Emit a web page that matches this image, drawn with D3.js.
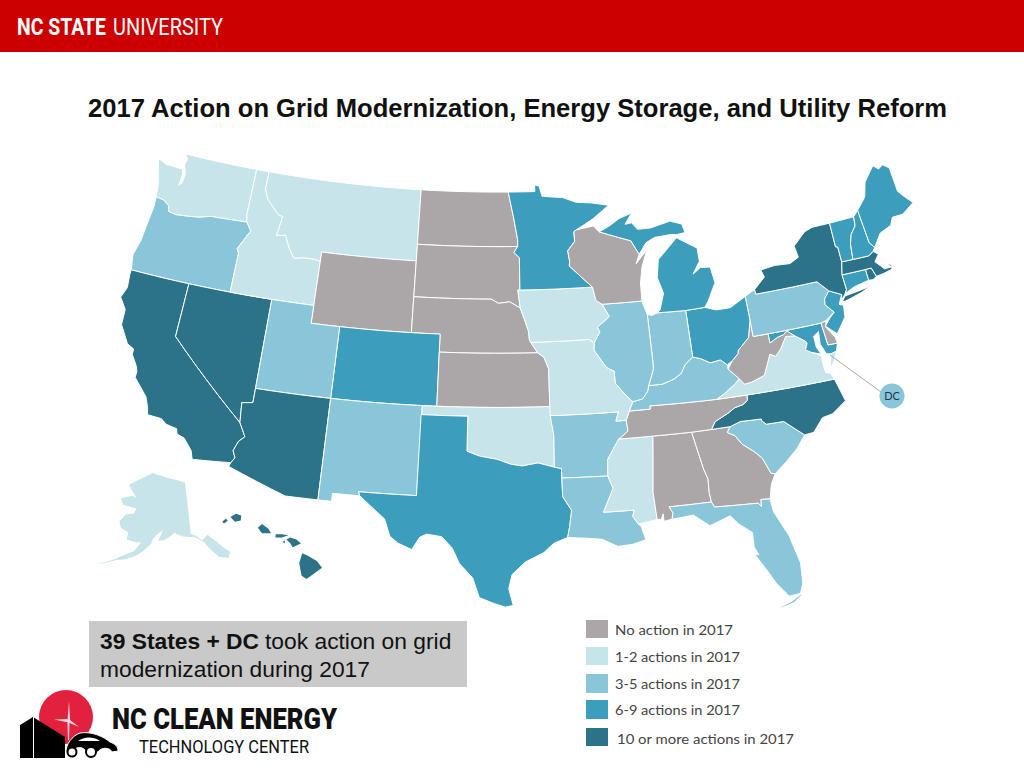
<!DOCTYPE html>
<html><head><meta charset="utf-8"><style>html,body{margin:0;padding:0;background:#fff}svg{display:block}</style>
<script src="https://cdn.jsdelivr.net/npm/d3@7"></script></head><body><svg id="c" width="1024" height="768"></svg>
<script>
const titleText="2017 Action on Grid Modernization, Energy Storage, and Utility Reform";
const legendLabels=["No action in 2017","1-2 actions in 2017","3-5 actions in 2017","6-9 actions in 2017","10 or more actions in 2017"];
const legendColors=["#aba7a9","#c6e4ea","#89c6d9","#3c9dbd","#2c7389"];
const statesNone=["ND","SD","WY","NE","KS","WI","WV","TN","AL","GA","DE"];
const states12=["WA","MT","ID","AK","IA","MO","OK","MS","VA"];
const states35=["OR","UT","NM","AR","LA","FL","IL","IN","KY","PA","SC"];
const states69=["ME","NH","VT","MN","MI","OH","NJ","MD","CO","TX","CT"];
const states10=["CA","NV","AZ","HI","NY","MA","RI","NC"];
const outlines={
WA:["-124.7,48.38 -124.1,46.9 -124,46.27 -123.4,46.2 -122.9,45.95 -122.8,45.65 -122.2,45.57 -121.2,45.65 -120.5,45.72 -119.6,45.92 -119,45.93 -116.92,46 -117.04,46.42 -117.04,49 -123.05,49 -122.75,49 -122.5,48.75 -122.6,48.4 -122.35,47.9 -122.4,47.4 -122.6,47.2 -122.55,47.8 -122.65,48.13 -123.2,48.15 -124,48.17"],
OR:["-124,46.27 -123.4,46.2 -122.9,45.95 -122.8,45.65 -122.2,45.57 -121.2,45.65 -120.5,45.72 -119.6,45.92 -119,45.93 -116.92,46 -116.5,45.55 -116.85,45 -117.2,44.45 -117.03,44.2 -117.03,42 -124.2,42 -124.4,42.85 -124.15,43.7 -124.05,44.8 -123.95,45.7"],
CA:["-124.2,42 -120,42 -120,39 -114.63,35 -114.15,34.27 -114.5,33.95 -114.72,33.4 -114.52,33.03 -114.72,32.72 -117.12,32.53 -117.3,33 -117.9,33.6 -118.4,33.75 -118.5,34.03 -119.2,34.15 -119.6,34.4 -120.5,34.45 -120.65,34.9 -120.9,35.4 -121.9,36.3 -121.9,36.65 -122.05,36.95 -122.5,37.5 -122.5,37.8 -123,38 -123.75,38.95 -123.8,39.8 -124.35,40.4 -124.1,41 -124.2,41.75"],
NV:["-120,42 -114.04,42 -114.04,36.2 -114.75,36.1 -114.63,35 -120,39"],
ID:["-117.04,49 -116.05,49 -116.05,48 -115.7,47.45 -114.7,46.7 -114.35,46.65 -114.55,45.55 -113.9,45.65 -113.45,44.95 -113,44.45 -112.3,44.55 -111.5,44.55 -111.05,44.47 -111.05,42 -117.03,42 -117.03,44.2 -117.2,44.45 -116.85,45 -116.5,45.55 -116.92,46 -117.04,46.42"],
MT:["-116.05,49 -104.05,49 -104.05,45 -111.05,45 -111.05,44.47 -111.5,44.55 -112.3,44.55 -113,44.45 -113.45,44.95 -113.9,45.65 -114.55,45.55 -114.35,46.65 -114.7,46.7 -115.7,47.45 -116.05,48"],
WY:["-111.05,45 -104.05,45 -104.05,41 -111.05,41"],
ND:["-104.05,49 -97.23,49 -96.85,47.6 -96.55,46.3 -96.56,45.93 -104.05,45.93"],
SD:["-104.05,45.93 -96.56,45.93 -96.85,45.6 -96.45,45.3 -96.45,43.5 -96.6,43.5 -96.45,42.5 -97.2,42.85 -98,42.77 -98.5,43 -104.05,43"],
NE:["-104.05,43 -98.5,43 -98,42.77 -97.2,42.85 -96.45,42.5 -96.1,41.7 -95.9,41.2 -95.85,40.7 -95.31,40 -102.05,40 -102.05,41 -104.05,41"],
CO:["-109.05,41 -102.05,41 -102.05,37 -109.05,37"],
UT:["-114.04,42 -111.05,42 -111.05,41 -109.05,41 -109.05,37 -114.04,37"],
AZ:["-114.04,37 -109.05,37 -109.05,31.33 -111.07,31.33 -114.81,32.5 -114.72,32.72 -114.52,33.03 -114.72,33.4 -114.5,33.95 -114.15,34.27 -114.63,35 -114.75,36.1 -114.04,36.2"],
NM:["-109.05,37 -103,37 -103.05,32 -106.62,32 -106.53,31.78 -108.21,31.78 -108.21,31.33 -109.05,31.33"],
KS:["-102.05,40 -95.31,40 -94.9,39.75 -94.6,39.1 -94.62,37 -102.05,37"],
OK:["-103,37 -94.62,37 -94.43,35.4 -94.48,33.64 -95.5,33.9 -96.5,33.75 -97.2,33.85 -98.1,34.13 -99.2,34.3 -100,34.56 -100,36.5 -103,36.5"],
TX:["-103.05,36.5 -100,36.5 -100,34.56 -99.2,34.3 -98.1,34.13 -97.2,33.85 -96.5,33.75 -95.5,33.9 -94.48,33.64 -94.04,33.55 -94.04,31.99 -93.53,31.2 -93.7,30.3 -93.85,29.7 -94.7,29.4 -95.3,28.9 -96.4,28.4 -97.2,27.7 -97.4,26.9 -97.15,25.96 -97.6,25.87 -98.25,26.07 -99.1,26.4 -99.5,27.5 -100.3,28.3 -100.75,29.15 -101.4,29.77 -102.3,29.88 -102.7,29.7 -103.15,28.98 -104,29.3 -104.5,29.65 -104.9,30.6 -106.53,31.78 -106.62,32 -103.05,32"],
AR:["-94.62,36.5 -90.15,36.5 -90.37,36 -89.7,36 -89.65,35.4 -90.1,35.1 -90.6,34.6 -91.1,33.9 -91.17,33 -94.04,33.02 -94.04,33.55 -94.48,33.64 -94.43,35.4"],
LA:["-94.04,33.02 -91.17,33 -90.9,32.3 -91.6,31 -89.73,31 -89.85,30.65 -89.55,30.2 -89.4,30.05 -89.2,29.3 -90,29.1 -90.9,29.05 -91.8,29.5 -92.6,29.6 -93.85,29.7 -93.7,30.3 -93.53,31.2 -94.04,31.99"],
MS:["-90.3,35 -88.2,35 -88.1,34.9 -88.47,31.9 -88.4,30.37 -89.55,30.2 -89.85,30.65 -89.73,31 -91.6,31 -90.9,32.3 -91.17,33 -91.1,33.9 -90.6,34.6"],
AL:["-88.2,35 -85.6,34.98 -85.18,32.87 -85,32.3 -85.05,31.55 -85,31 -87.6,31 -87.4,30.65 -87.5,30.3 -88,30.23 -88,30.65 -88.15,30.35 -88.4,30.37 -88.47,31.9 -88.1,34.9"],
GA:["-85.6,34.98 -83.1,35 -83.35,34.7 -82.9,34.47 -82.55,33.95 -81.9,33.45 -81.45,33 -81.1,32.1 -80.85,32.03 -81.2,31.5 -81.45,30.7 -82,30.75 -82.05,30.36 -82.2,30.57 -84.86,30.7 -85,31 -85.05,31.55 -85,32.3 -85.18,32.87"],
FL:["-87.6,31 -85,31 -84.86,30.7 -82.2,30.57 -82.05,30.36 -82,30.75 -81.45,30.7 -81.4,30 -80.75,28.5 -80.4,26.9 -80.5,25.75 -80.75,25.2 -81.4,25.15 -82,26 -82.4,26.8 -82.95,27.8 -82.7,27.7 -82.9,28.2 -82.85,29 -83.6,29.6 -84,30.1 -85.3,29.7 -86.2,30.4 -87.5,30.3 -87.4,30.65","-82,24.55 -81.2,24.75 -80.7,25.1 -80.75,25.15 -81.3,24.85 -82,24.62"],
SC:["-83.35,34.7 -83.1,35 -82.4,35.2 -81.05,35.15 -81.05,35.05 -80.8,34.82 -79.67,34.8 -78.55,33.86 -79.2,33.2 -80,32.6 -80.85,32.03 -81.1,32.1 -81.45,33 -81.9,33.45 -82.55,33.95 -82.9,34.47"],
NC:["-84.32,34.99 -83.1,35 -82.4,35.2 -81.05,35.15 -81.05,35.05 -80.8,34.82 -79.67,34.8 -78.55,33.86 -77.95,33.9 -77.2,34.6 -76.5,34.7 -75.5,35.25 -75.85,36.55 -81.68,36.59 -81.7,36.3 -82.05,36.1 -82.6,36 -83.1,35.75 -84,35.4"],
TN:["-90.3,35 -88.2,35 -85.6,34.98 -84.32,34.99 -84,35.4 -83.1,35.75 -82.6,36 -82.05,36.1 -81.7,36.3 -81.68,36.59 -83.68,36.6 -88.07,36.68 -88.07,36.5 -89.45,36.5 -89.7,36 -89.65,35.4 -90.1,35.1"],
KY:["-89.45,36.5 -88.07,36.5 -88.07,36.68 -83.68,36.6 -83.1,36.85 -82.3,37.3 -81.97,37.54 -82.6,38.17 -82.6,38.4 -83,38.73 -83.7,38.65 -84.3,38.95 -84.82,39.1 -85.4,38.73 -85.75,38.27 -86.3,38 -87.1,37.8 -88,37.8 -88.1,37.5 -88.5,37.1 -89.15,37"],
VA:["-83.68,36.6 -81.68,36.59 -75.85,36.55 -76,36.9 -76.3,37 -76.35,37.6 -76.3,37.95 -77,38.3 -77.2,38.6 -77.04,38.8 -77.12,38.93 -77.72,39.32 -78.35,39.4 -78.87,38.77 -79.3,38.42 -79.65,38.6 -80.3,37.5 -81.2,37.25 -81.7,37.2 -81.97,37.54 -82.3,37.3 -83.1,36.85","-75.95,37.15 -75.65,37.95 -75.25,38.03 -75.6,37.5"],
WV:["-81.97,37.54 -81.7,37.2 -81.2,37.25 -80.3,37.5 -79.65,38.6 -79.3,38.42 -78.87,38.77 -78.35,39.4 -77.72,39.32 -78.2,39.69 -78.45,39.52 -78.9,39.44 -79.49,39.2 -79.48,39.72 -80.52,39.72 -80.52,40.64 -80.85,39.7 -81.7,39.1 -81.75,38.93 -82.2,38.6 -82.6,38.17"],
MD:["-79.48,39.72 -75.79,39.72 -75.7,38.46 -75.05,38.45 -75.25,38.03 -75.65,37.95 -75.95,38 -76.2,38.6 -76.1,39.3 -76.5,39.1 -76.5,38.5 -76.3,38.05 -76.9,38.25 -77.25,38.45 -77.04,38.8 -77.12,38.93 -77.72,39.32 -78.2,39.69 -78.45,39.52 -78.9,39.44 -79.49,39.2"],
DE:["-75.79,39.72 -75.42,39.8 -75.55,39.45 -75.1,38.8 -75.05,38.45 -75.7,38.46"],
PA:["-80.52,41.98 -79.76,42.27 -79.76,42 -75.35,42 -74.7,41.36 -75.13,40.98 -75.2,40.65 -74.72,40.15 -75.42,39.8 -75.79,39.72 -80.52,39.72"],
NJ:["-74.7,41.36 -73.9,41 -74.25,40.5 -73.98,40.4 -74.1,39.75 -74.9,38.95 -75.55,39.5 -75.1,39.9 -74.72,40.15 -75.2,40.65 -75.13,40.98"],
NY:["-79.76,42.27 -79.76,42 -75.35,42 -74.7,41.36 -73.9,41 -74,40.7 -73.65,41 -73.48,41.2 -73.5,42.05 -73.27,42.75 -73.25,43.6 -73.4,43.65 -73.35,45 -74.7,45 -75.3,44.85 -76.3,44.2 -76.2,43.55 -76.9,43.3 -78,43.37 -79.05,43.27 -78.9,42.85","-74,40.6 -73.75,40.6 -72.5,40.85 -71.87,41.07 -72.6,40.98 -73.7,40.88"],
CT:["-73.65,41 -73.48,41.2 -73.5,42.05 -71.8,42.02 -71.8,41.4 -72.9,41.25"],
RI:["-71.8,42.02 -71.38,42.02 -71.2,41.5 -71.5,41.37 -71.8,41.4"],
MA:["-73.5,42.05 -73.27,42.75 -71.3,42.7 -70.9,42.88 -70.6,42.65 -71,42.3 -70.65,41.95 -70.5,41.78 -70,41.78 -70.2,42.07 -69.95,41.9 -70,41.65 -70.65,41.55 -71.2,41.5 -71.38,42.02 -71.8,42.02"],
VT:["-73.35,45 -71.5,45.01 -71.6,44.5 -72.05,44.1 -72.3,43.6 -72.45,42.73 -73.27,42.75 -73.25,43.6 -73.4,43.65"],
NH:["-71.5,45.01 -71.08,45.3 -70.98,43.4 -70.7,43.07 -70.9,42.88 -71.3,42.7 -72.45,42.73 -72.3,43.6 -72.05,44.1 -71.6,44.5"],
ME:["-71.08,45.3 -70.4,45.8 -70.25,45.95 -69.9,46.7 -68.95,47.46 -68.6,47.2 -68.2,47.35 -67.8,47.07 -67.8,45.7 -67.45,45.3 -67,44.85 -68,44.4 -68.8,44.4 -69.1,44 -70,43.75 -70.7,43.07 -70.98,43.4"],
OH:["-84.82,41.7 -83.45,41.73 -82.7,41.5 -81.7,41.5 -80.52,41.98 -80.52,40.64 -80.85,39.7 -81.7,39.1 -81.75,38.93 -82.2,38.6 -82.6,38.4 -83,38.73 -83.7,38.65 -84.3,38.95 -84.82,39.1"],
IN:["-87.53,41.72 -87.2,41.65 -86.82,41.76 -84.82,41.7 -84.82,39.1 -85.4,38.73 -85.75,38.27 -86.3,38 -87.1,37.8 -88,37.8 -87.55,38.7 -87.53,39.35"],
IL:["-87.8,42.5 -87.53,41.72 -87.53,39.35 -87.55,38.7 -88,37.8 -88.1,37.5 -88.5,37.1 -89.15,37 -89.5,37.3 -90.2,38.1 -90.2,38.75 -90.7,39 -91.45,40 -91.4,40.4 -90.95,41 -91.1,41.25 -90.2,41.8 -90.64,42.51"],
MO:["-95.77,40.58 -91.73,40.61 -91.4,40.4 -91.45,40 -90.7,39 -90.2,38.75 -90.2,38.1 -89.5,37.3 -89.15,37 -89.45,36.5 -89.7,36 -90.37,36 -90.15,36.5 -94.62,36.5 -94.62,37 -94.6,39.1 -94.9,39.75 -95.31,40"],
IA:["-96.45,43.5 -91.22,43.5 -91.05,42.75 -90.64,42.51 -90.2,41.8 -91.1,41.25 -90.95,41 -91.4,40.4 -91.73,40.61 -95.77,40.58 -95.85,40.7 -95.9,41.2 -96.1,41.7 -96.45,42.5 -96.6,43.5"],
MN:["-97.23,49 -95.15,49 -95.15,49.38 -94.8,49.3 -94.6,48.72 -93,48.6 -92,48.3 -90.8,48.2 -89.5,48 -90.8,47.3 -92.1,46.75 -92.3,46.65 -92.29,46.1 -92.85,45.6 -92.75,45 -92.8,44.75 -91.22,43.5 -96.45,43.5 -96.45,45.3 -96.85,45.6 -96.56,45.93 -96.55,46.3 -96.85,47.6"],
WI:["-92.1,46.75 -90.8,46.9 -90.4,46.55 -89,46.15 -88.1,45.9 -87.6,45.1 -87.9,44.6 -87,45.3 -87.5,44.4 -87.75,43.5 -87.8,42.5 -90.64,42.51 -91.05,42.75 -91.22,43.5 -92.8,44.75 -92.75,45 -92.85,45.6 -92.29,46.1 -92.3,46.65"],
MI:["-86.82,41.76 -84.82,41.7 -83.45,41.73 -83.15,42.05 -82.45,43 -82.6,43.9 -83.3,43.95 -83.9,43.65 -83.3,44.3 -83.3,45.05 -84.7,45.78 -85.6,45.15 -86.25,44.7 -86.5,43.7 -86.2,42.8 -86.6,41.9","-90.4,46.55 -89,46.15 -88.1,45.9 -87.6,45.1 -87,45.7 -86.3,45.95 -85,46 -84.7,45.95 -84,46 -84.15,46.5 -85,46.75 -86.5,46.5 -87.5,46.5 -87.9,46.9 -88.4,46.85 -87.8,47.45 -88.8,47.2 -89.6,46.83"]
};
const alaskaOutline=["-141,69.6 -141,60.3 -139.5,59.9 -137.5,58.9 -135.5,59.7 -133.5,58.4 -130,55.9 -130.9,54.9 -133.5,55.5 -135.5,57 -137,58.5 -139.7,59.6 -144,60 -146.5,60.6 -148,60 -150,59.3 -151.8,59.2 -150.5,61.1 -152.5,60.2 -153.8,59.3 -154,58.6 -156.5,57 -158.5,56 -161,55.2 -163.5,54.8 -165.5,54.1 -168.5,53.2 -165.5,54.3 -164,54.9 -161.5,56 -159,56.9 -157.3,58.6 -159,58.5 -162,58.7 -162,60 -164.8,60.5 -166,61.6 -165,62.5 -164.5,63 -161.5,63.5 -161,64.5 -163,64.5 -166.3,64.6 -168,65.6 -164,66.5 -162,66.3 -163.5,67 -166.5,68.3 -163,69.5 -157,71.2 -152,70.8 -145,70.1"];
const hawaiiOutlines=["-160.3,21.85 -160.1,22.02 -160.0,21.9 -160.2,21.75","-159.85,22.1 -159.55,22.27 -159.25,22.18 -159.28,21.92 -159.6,21.85","-158.33,21.55 -158.1,21.75 -157.75,21.5 -157.6,21.27 -158.1,21.27","-157.35,21.22 -157.0,21.22 -156.65,21.17 -157,21.06 -157.35,21.06","-156.75,20.95 -156.55,21.05 -156.2,20.95 -155.95,20.75 -156.4,20.55 -156.55,20.78","-155.88,20.25 -155.6,20.13 -155.08,19.85 -154.8,19.5 -155.65,18.93 -155.92,19.1 -156.05,19.75"];
const hawaiiTiny=["-156.98,20.82 -156.85,20.9 -156.82,20.78"];

const colorByState=new Map();
[statesNone,states12,states35,states69,states10].forEach((list,i)=>list.forEach(s=>colorByState.set(s,legendColors[i])));
const parseRing=s=>s.split(" ").map(p=>p.split(",").map(Number));
const dense=r=>{const o=[];r.forEach((a,i)=>{const b=r[(i+1)%r.length];const n=Math.ceil(Math.max(Math.abs(b[0]-a[0]),Math.abs(b[1]-a[1])));for(let k=0;k<n;k++)o.push([a[0]+(b[0]-a[0])*k/n,a[1]+(b[1]-a[1])*k/n]);});return o;};
function makeProjector(proj,a1,a2,b1,b2){
  proj.scale(1).translate([0,0]);
  const pa=proj(a1[0]),pb=proj(a2[0]),pc=proj(b1[0]),pd=proj(b2[0]);
  const x=d3.scaleLinear().domain([pa[0],pb[0]]).range([a1[1],a2[1]]);
  const y=d3.scaleLinear().domain([pc[1],pd[1]]).range([b1[1],b2[1]]);
  return d3.line().x(d=>x(proj(d)[0])).y(d=>y(proj(d)[1])).curve(d3.curveLinearClosed);
}
const lower48=makeProjector(d3.geoAlbers().rotate([98,0]),[[-124.4,42.85],133],[[-67,44.85],913],[[-96.85,49],192],[[-81,25.15],595]);
const akLine=makeProjector(d3.geoConicEqualArea().parallels([55,65]).rotate([148,0]),[[-168,65.6],121],[[-130,55.9],230],[[-157,71.2],473],[[-168.5,53.2],564]);
const hiLine=makeProjector(d3.geoConicEqualArea().parallels([8,18]).rotate([157,0]),[[-160.15,21.9],225],[[-154.8,19.5],322],[[-159.5,22.2],515],[[-155.65,18.93],579]);

const svg=d3.select("#c");
svg.append("rect").attr("width",1024).attr("height",52).attr("fill","#cc0000");
const wordmark=(t,x,w,wt)=>svg.append("text").attr("x",x).attr("y",34.5).attr("font-family","Roboto").attr("font-size",23).attr("font-weight",wt).attr("fill","#fff").attr("textLength",w).attr("lengthAdjust","spacingAndGlyphs").text(t);
wordmark("NC STATE",17,89,700);wordmark("UNIVERSITY",113,110,400);
svg.append("text").attr("x",88).attr("y",117).attr("font-family","Liberation Sans").attr("font-weight",700).attr("font-size",25).attr("fill","#111").attr("textLength",859).attr("lengthAdjust","spacingAndGlyphs").text(titleText);

const map=svg.append("g").attr("stroke","#fff").attr("stroke-width",1).attr("stroke-linejoin","round");
Object.keys(outlines).forEach(k=>outlines[k].forEach(r=>map.append("path").attr("d",lower48(dense(parseRing(r)))).attr("fill",colorByState.get(k))));
alaskaOutline.forEach(r=>map.append("path").attr("d",akLine(dense(parseRing(r)))).attr("fill",colorByState.get("AK")).attr("stroke","none"));
hawaiiOutlines.concat(hawaiiTiny).forEach(r=>map.append("path").attr("d",hiLine(parseRing(r))).attr("fill",colorByState.get("HI")).attr("stroke","none"));

svg.append("line").attr("x1",830).attr("y1",355).attr("x2",881).attr("y2",392).attr("stroke","#aaa").attr("stroke-width",1);
svg.append("circle").attr("cx",892).attr("cy",396).attr("r",12.5).attr("fill",legendColors[2]);
svg.append("text").attr("x",892).attr("y",400).attr("text-anchor","middle").attr("font-family","Lato").attr("font-size",11).attr("fill","#1d3a4a").text("DC");

svg.append("rect").attr("x",89).attr("y",621).attr("width",378).attr("height",66).attr("fill","#c9c9c9");
const note=svg.append("text").attr("font-family","Liberation Sans").attr("font-size",22.8).attr("fill","#111");
note.append("tspan").attr("x",100).attr("y",649).attr("font-weight",700).text("39 States + DC");
note.append("tspan").attr("dx",6).text("took action on grid");
note.append("tspan").attr("x",100).attr("y",677).text("modernization during 2017");

const swatchY=[620,647,674,700,728],swatchH=[18,18,19,19,18],labelY=[635,662,689,715,744],labelX=[615,615,615,615,617],labelW=[118,125,125,125,177];
legendLabels.forEach((t,i)=>{
 svg.append("rect").attr("x",586).attr("y",swatchY[i]).attr("width",22).attr("height",swatchH[i]).attr("fill",legendColors[i]);
 svg.append("text").attr("x",labelX[i]).attr("y",labelY[i]).attr("font-family","Lato").attr("font-size",14).attr("fill","#444").attr("textLength",labelW[i]).attr("lengthAdjust","spacingAndGlyphs").text(t);
});

svg.append("circle").attr("cx",66).attr("cy",717).attr("r",27).attr("fill","#e2213f");
svg.append("path").attr("d","M20,725L33,717L65,737V758H20Z").attr("fill","#000");
svg.append("line").attr("x1",33.5).attr("y1",717).attr("x2",33.5).attr("y2",758).attr("stroke","#fff").attr("stroke-width",1);
svg.append("path").attr("d","M67.5,720L69,701L70,720L79,727L68.5,722.5L54,719.5L67,719ZM67.5,722H69.5L69,740H68Z").attr("fill","#f8d8dd");
svg.append("path").attr("d","M66,752C66,744 72,736 80,733C92,731 104,737 110,742C115,744 118,746 118,751L112,752C110,747 101,747 98,752H86C84,746 75,746 73,752Z").attr("fill","#000").attr("stroke","#fff").attr("stroke-width",1);
svg.append("path").attr("d","M78,741C84,737 92,736 100,741Z").attr("fill","#fff");
svg.append("circle").attr("cx",91).attr("cy",752).attr("r",5).attr("fill","#fff").attr("stroke","#000").attr("stroke-width",2);
svg.append("circle").attr("cx",72).attr("cy",752).attr("r",4.5).attr("fill","#fff").attr("stroke","#000").attr("stroke-width",2);
const logoText=(t,x,y,fs,w,wt)=>svg.append("text").attr("x",x).attr("y",y).attr("font-family","Roboto").attr("font-size",fs).attr("font-weight",wt).attr("fill","#111").attr("textLength",w).attr("lengthAdjust","spacingAndGlyphs").text(t);
logoText("NC CLEAN ENERGY",112,729,29.5,225,900);
logoText("TECHNOLOGY CENTER",139,753,18,170,400);
</script></body></html>
